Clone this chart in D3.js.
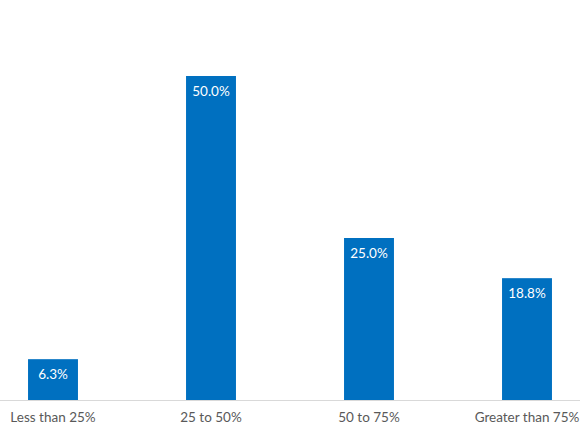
<!DOCTYPE html>
<html>
<head>
<meta charset="utf-8">
<script src="https://cdn.jsdelivr.net/npm/d3@7"></script>
<style>
  body { margin: 0; background: #fff; }
  svg { display: block; font-family: Lato, "Open Sans", sans-serif; }
</style>
</head>
<body>
<svg id="chart" width="580" height="435"></svg>
<script>
const categories = ["Less than 25%", "25 to 50%", "50 to 75%", "Greater than 75%"];
const shares = [6.3, 50.0, 25.0, 18.8];

const width = 580, height = 435;
const baseY = 400;

const svg = d3.select('#chart');

// band scale runs a bit past the window, the last label gets clipped like in the source
const x = d3.scaleBand()
    .domain(categories)
    .range([-26, 606])
    .paddingInner(0.684)
    .paddingOuter(0.342);

const y = d3.scaleLinear()
    .domain([0, 50])
    .range([baseY, 76]);

svg.selectAll('rect.bar')
    .data(shares)
    .join('rect')
    .attr('class', 'bar')
    .attr('x', (d, i) => x(categories[i]))
    .attr('y', d => y(d))
    .attr('width', x.bandwidth())
    .attr('height', d => baseY - y(d))
    .attr('fill', '#0070c0');

svg.selectAll('text.val')
    .data(shares)
    .join('text')
    .attr('class', 'val')
    .attr('x', (d, i) => x(categories[i]) + x.bandwidth() / 2)
    .attr('y', d => y(d) + 20)
    .attr('text-anchor', 'middle')
    .attr('fill', '#fff')
    .style('font-size', '13.5px')
    .text(d => d.toFixed(1) + '%');

// baseline
svg.append('line')
    .attr('x1', 0).attr('x2', width)
    .attr('y1', baseY + 0.5).attr('y2', baseY + 0.5)
    .attr('stroke', '#d9d9d9')
    .attr('stroke-width', 1);

const axis = d3.axisBottom(x).tickSize(0).tickPadding(12);
const g = svg.append('g')
    .attr('transform', `translate(0,${baseY})`)
    .call(axis);
g.select('.domain').remove();
g.selectAll('text')
    .attr('fill', '#595959')
    .style('font-family', 'Lato, "Open Sans", sans-serif')
    .style('font-size', '13.5px');
</script>
</body>
</html>
